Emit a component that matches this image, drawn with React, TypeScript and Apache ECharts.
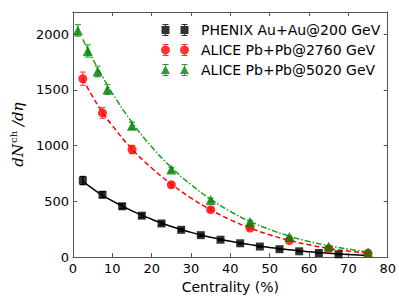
import React, { useEffect, useRef } from "react";
import * as echarts from "echarts";

// ---- Data ----
const phenixName = "PHENIX Au+Au@200 GeV";
const alice2760Name = "ALICE Pb+Pb@2760 GeV";
const alice5020Name = "ALICE Pb+Pb@5020 GeV";

const phenixX = [2.5, 7.5, 12.5, 17.5, 22.5, 27.5, 32.5, 37.5, 42.5, 47.5, 52.5, 57.5, 62.5, 67.5];
const phenixY = [687, 560, 456, 372, 302, 245, 197, 156, 124, 95, 71, 52, 37, 25];
const phenixErr = [37, 27, 22, 18, 14, 12, 10, 9, 8, 7, 6, 5, 5, 4];

const a2760X = [2.5, 7.5, 15, 25, 35, 45, 55, 65, 75];
const a2760Y = [1601, 1294, 966, 649, 426, 261, 149, 76, 35];
const a2760Err = [60, 49, 37, 23, 15, 9, 6, 4, 2];

const a5020X = [1.25, 3.75, 6.25, 8.75, 15, 25, 35, 45, 55, 65, 75];
const a5020Y = [2035, 1850, 1666, 1505, 1180, 786, 512, 318, 183, 96, 44];
const a5020Err = [52, 55, 48, 44, 31, 20, 15, 12, 8, 6, 4];

// fit curves
const fitX = [2.5, 5, 7.5, 10, 15, 20, 25, 30, 35, 40, 45, 50, 55, 60, 65, 70, 75];
const fitPhenix = [680, 615, 555, 505, 415, 340, 275, 222, 178, 142, 112, 86, 65, 48, 34, 23, 15];
const fit2760 = [1600, 1440, 1300, 1180, 970, 800, 655, 530, 425, 335, 262, 200, 150, 110, 78, 54, 35];
const fit5020 = [1955, 1780, 1620, 1470, 1210, 990, 805, 650, 520, 410, 320, 248, 188, 140, 102, 72, 48];

const xTicks = { min: 0, max: 80, interval: 10 };
const yTicks = { min: 0, max: 2200, interval: 500 };

const BLACK = "#000000";
const RED = "#ff0000";
const GREEN = "#008000";
const GREEN_LINE = "#1fa01f";
const RED_ERR = "#ff5555";
const GREEN_ERR = "#33b033";

const FONT = "DejaVu Sans";

// legend icons: two markers with error bars
const barPaths = (cx: number) =>
  `M${cx - 0.6} 0 h1.2 v12 h-1.2 Z M${cx - 3} 0 h6 v1 h-6 Z M${cx - 3} 11 h6 v1 h-6 Z`;
const squareAt = (cx: number) => `M${cx - 4} 2 h8 v8 h-8 Z`;
const circleAt = (cx: number) => `M${cx - 4.5} 6 A4.5 4.5 0 1 1 ${cx + 4.5} 6 A4.5 4.5 0 1 1 ${cx - 4.5} 6 Z`;
const triAt = (cx: number) => `M${cx} 1.5 L${cx + 4.5} 10 L${cx - 4.5} 10 Z`;
const icon = (m: (cx: number) => string) =>
  "path://" + [m(4.5), barPaths(4.5), m(23.5), barPaths(23.5)].join(" ");

const zip3 = (a: number[], b: number[], c: number[]) => a.map((v, i) => [v, b[i], c[i]]);
const zip2 = (a: number[], b: number[]) => a.map((v, i) => [v, b[i]]);

const errRender = (color: string) => (params: any, api: any) => {
  const x = api.value(0);
  const y = api.value(1);
  const e = api.value(2);
  const lo = api.coord([x, y - e]);
  const hi = api.coord([x, y + e]);
  const w = 3;
  const st = { stroke: color, lineWidth: 1.2 };
  return {
    type: "group",
    children: [
      { type: "line", shape: { x1: lo[0], y1: lo[1], x2: hi[0], y2: hi[1] }, style: st },
      { type: "line", shape: { x1: lo[0] - w, y1: lo[1], x2: lo[0] + w, y2: lo[1] }, style: st },
      { type: "line", shape: { x1: hi[0] - w, y1: hi[1], x2: hi[0] + w, y2: hi[1] }, style: st },
    ],
  };
};

export default function App() {
  const ref = useRef<HTMLDivElement>(null);
  useEffect(() => {
    if (!ref.current) return;
    const chart = echarts.init(ref.current, undefined, { renderer: "svg" });
    const axisLine = { show: true, onZero: false, lineStyle: { color: "#555", width: 1 } };
    const axisTick = { show: true, inside: true, length: 4, lineStyle: { color: "#555", width: 1 } };
    const label = { fontSize: 13, color: "#000", fontFamily: FONT, formatter: (v: number) => String(v) };
    chart.setOption({
      animation: false,
      backgroundColor: "#fff",
      grid: { left: 71, right: 8, top: 12, bottom: 40, containLabel: false },
      legend: {
        orient: "vertical",
        left: 156,
        top: 18,
        itemWidth: 28,
        itemHeight: 12,
        itemGap: 6,
        selectedMode: false,
        textStyle: { fontSize: 14, fontFamily: FONT, color: "#000", lineHeight: 14, padding: [0, 0, 0, 7] },
        data: [
          { name: phenixName, icon: icon(squareAt) },
          { name: alice2760Name, icon: icon(circleAt) },
          { name: alice5020Name, icon: icon(triAt) },
        ],
      },
      xAxis: [
        {
          type: "value",
          ...xTicks,
          position: "bottom",
          axisLine,
          axisTick,
          axisLabel: { ...label, margin: 5 },
          splitLine: { show: false },
          name: "Centrality (%)",
          nameLocation: "middle",
          nameGap: 20,
          nameTextStyle: { fontSize: 14, fontFamily: FONT, color: "#000" },
        },
        {
          type: "value",
          ...xTicks,
          position: "top",
          axisLine,
          axisTick,
          axisLabel: { show: false },
          splitLine: { show: false },
        },
      ],
      yAxis: [
        {
          type: "value",
          ...yTicks,
          position: "left",
          axisLine,
          axisTick,
          axisLabel: { ...label, margin: 4, showMaxLabel: false },
          splitLine: { show: false },
          name: "{i|dN}{s|ch}{i| /dη}",
          nameLocation: "middle",
          nameRotate: 90,
          nameGap: 40,
          nameTextStyle: {
            rich: {
              i: { fontFamily: "DejaVu Serif", fontStyle: "italic", fontSize: 15, color: "#000" },
              s: { fontFamily: "DejaVu Serif", fontSize: 10, color: "#000", padding: [0, 0, 9, 1] },
            },
          },
        },
        {
          type: "value",
          ...yTicks,
          position: "right",
          axisLine,
          axisTick,
          axisLabel: { show: false },
          splitLine: { show: false },
        },
      ],
      series: [
        {
          type: "line",
          name: "fitPhenix",
          data: zip2(fitX, fitPhenix),
          smooth: true,
          symbol: "none",
          lineStyle: { color: BLACK, width: 1.5, type: "solid" },
          z: 2,
        },
        {
          type: "line",
          name: "fit2760",
          data: zip2(fitX, fit2760),
          smooth: true,
          symbol: "none",
          lineStyle: { color: RED, width: 1.5, type: [5, 3] },
          z: 2,
        },
        {
          type: "line",
          name: "fit5020",
          data: zip2(fitX, fit5020),
          smooth: true,
          symbol: "none",
          lineStyle: { color: GREEN_LINE, width: 1.5, type: [6, 2, 1.5, 2] },
          z: 2,
        },
        {
          type: "custom",
          name: "errPhenix",
          data: zip3(phenixX, phenixY, phenixErr),
          renderItem: errRender(BLACK),
          encode: { x: 0, y: 1 },
          z: 3,
        },
        {
          type: "custom",
          name: "err2760",
          data: zip3(a2760X, a2760Y, a2760Err),
          renderItem: errRender(RED_ERR),
          encode: { x: 0, y: 1 },
          z: 3,
        },
        {
          type: "custom",
          name: "err5020",
          data: zip3(a5020X, a5020Y, a5020Err),
          renderItem: errRender(GREEN_ERR),
          encode: { x: 0, y: 1 },
          z: 3,
        },
        {
          type: "scatter",
          name: phenixName,
          data: zip2(phenixX, phenixY),
          symbol: "rect",
          symbolSize: 8,
          itemStyle: { color: BLACK },
          z: 4,
        },
        {
          type: "scatter",
          name: alice2760Name,
          data: zip2(a2760X, a2760Y),
          symbol: "circle",
          symbolSize: 9,
          itemStyle: { color: RED },
          z: 4,
        },
        {
          type: "scatter",
          name: alice5020Name,
          data: zip2(a5020X, a5020Y),
          symbol: "triangle",
          symbolSize: 10,
          itemStyle: { color: GREEN },
          z: 4,
        },
      ],
    });
    return () => chart.dispose();
  }, []);
  return <div ref={ref} style={{ width: 399, height: 299, position: "absolute", left: 0, top: 0 }} />;
}
